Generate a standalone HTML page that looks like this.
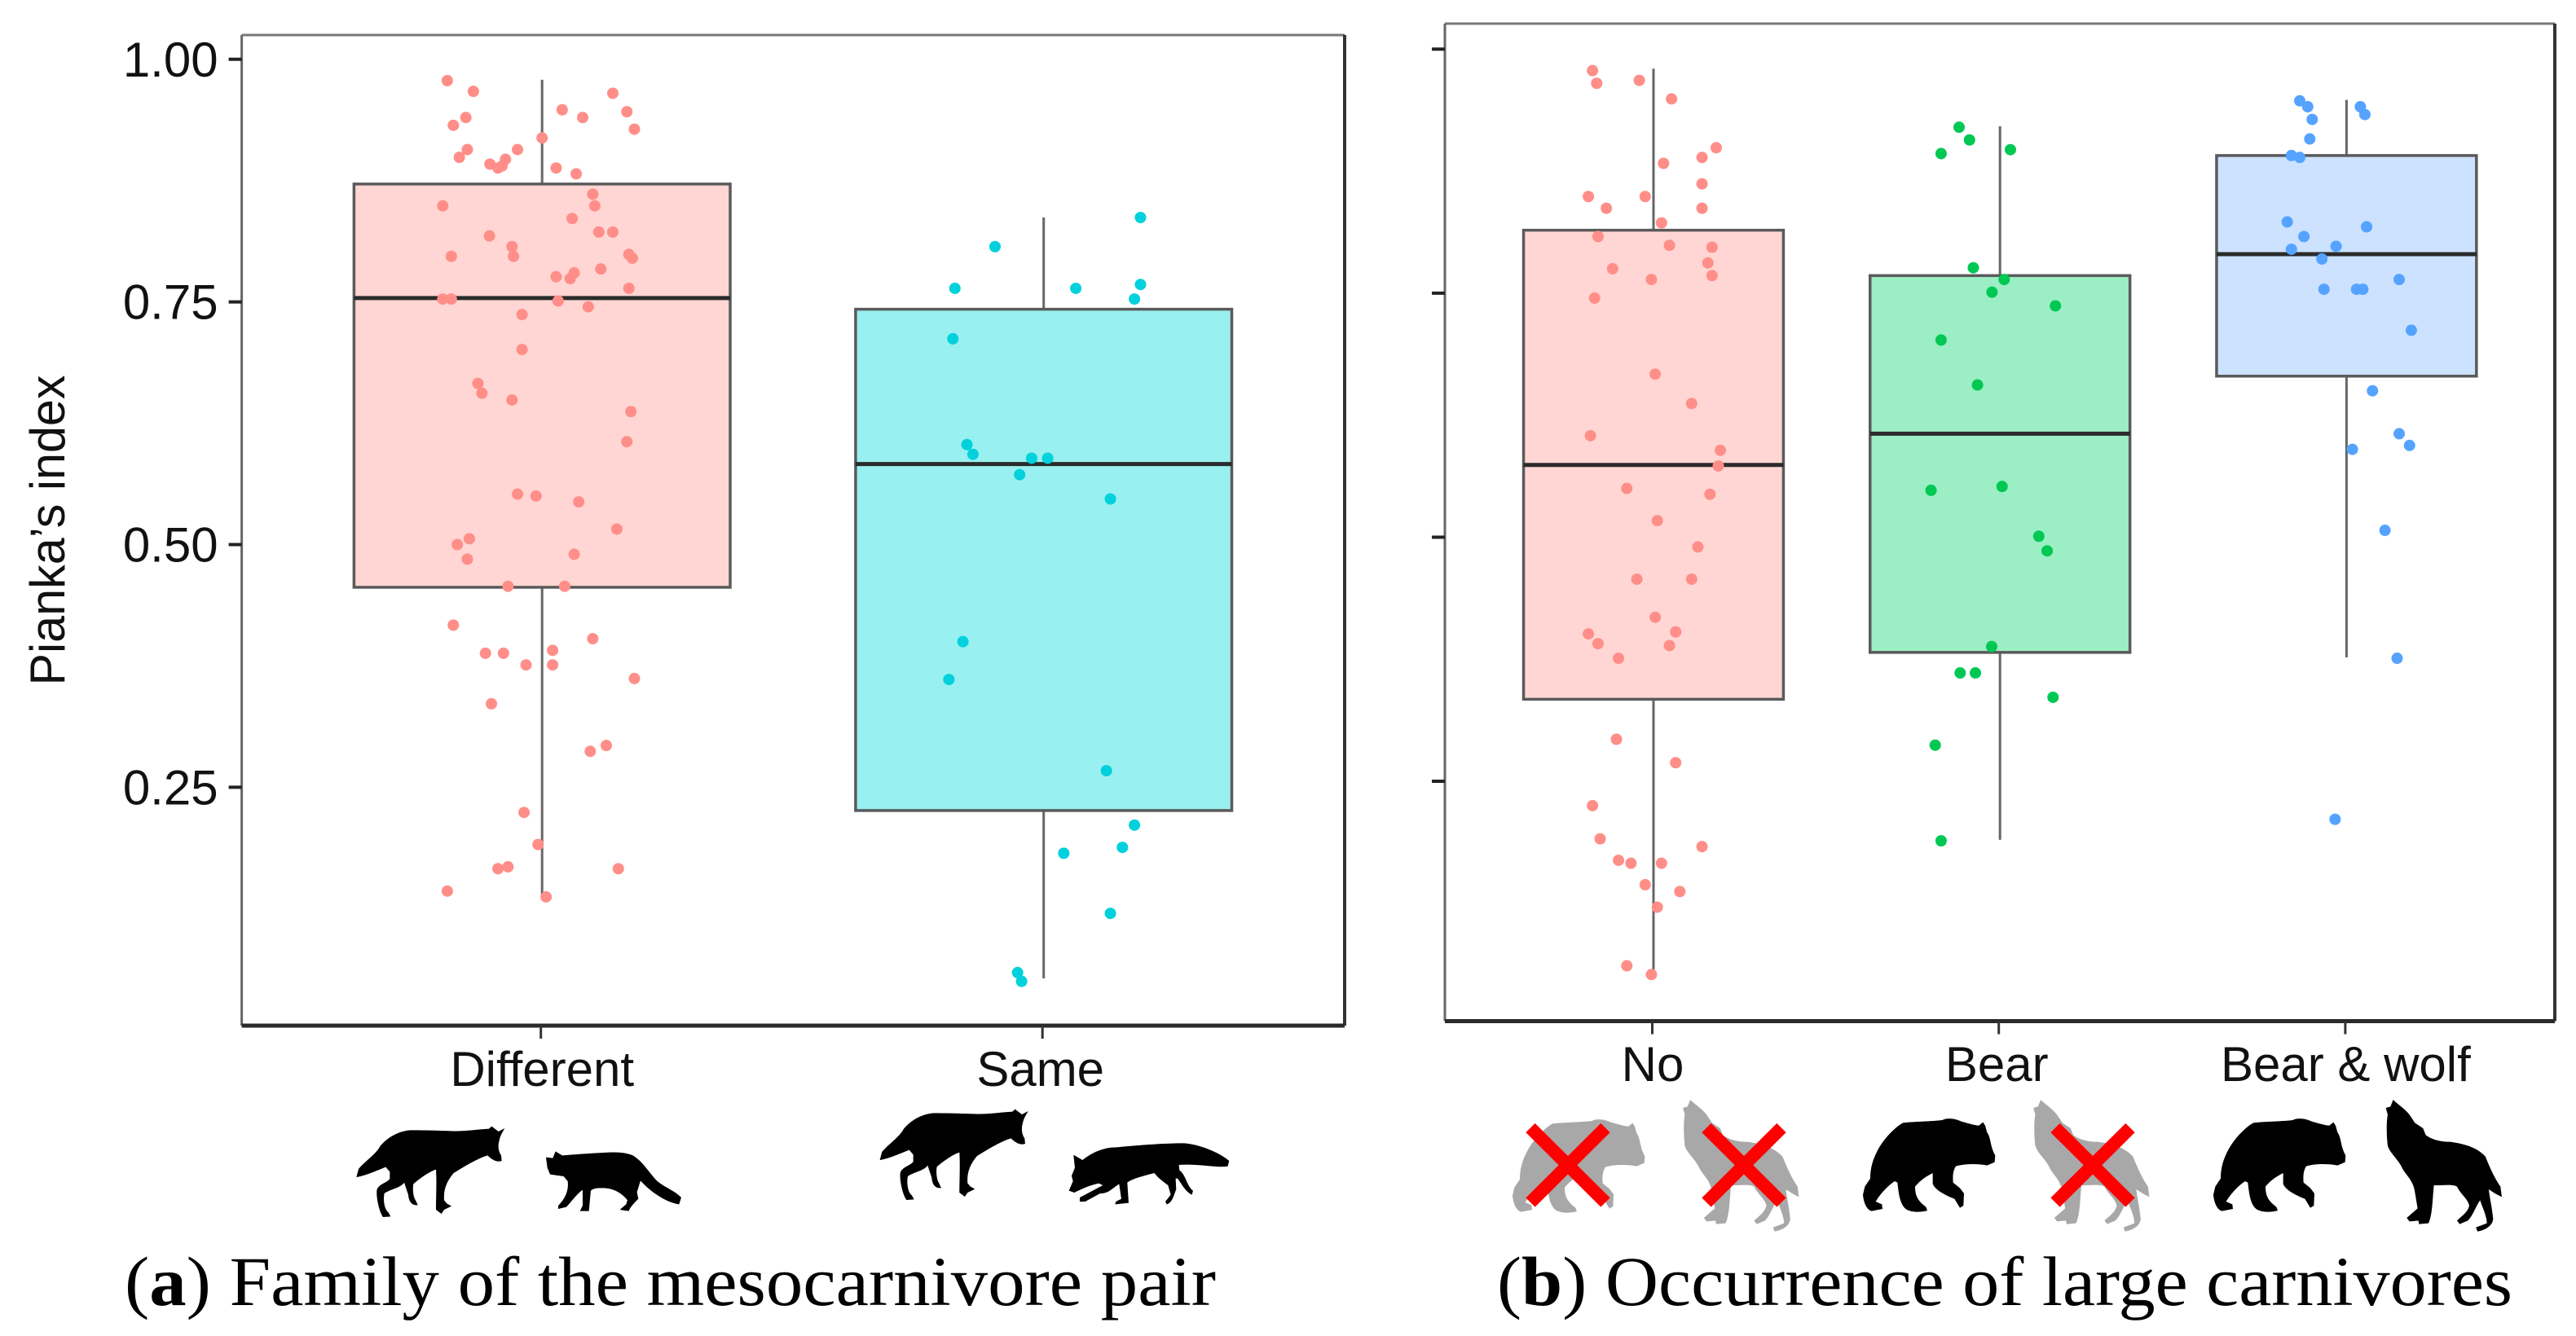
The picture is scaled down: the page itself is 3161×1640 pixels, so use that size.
<!DOCTYPE html>
<html lang="en">
<head>
<meta charset="utf-8">
<title>Pianka's index by mesocarnivore family and large carnivore occurrence</title>
<style>
html,body{margin:0;padding:0;background:#fff;}
svg{display:block;}
text{font-family:"Liberation Sans",Arial,sans-serif;fill:#111;}
.cap{font-family:"Liberation Serif","Times New Roman",serif;font-size:86px;fill:#000;}
</style>
</head>
<body>
<svg id="figure" xmlns="http://www.w3.org/2000/svg" width="3161" height="1640" viewBox="0 0 3161 1640">
  <rect x="0" y="0" width="3161" height="1640" fill="#ffffff"/>
  <g id="panel-a"></g>
  <g id="panel-b"></g>

  <!-- silhouettes, panel a -->
  <g fill="#000">
    <path transform="translate(420,1290) scale(0.3333)" d="M598,285 L575,297 L550,278 L540,287 C490,290 450,297 400,295 C340,293 290,292 250,292 C210,295 170,315 140,350 C125,380 85,405 60,435 L52,465 C80,462 130,440 160,428 L175,445 L175,470 C170,485 130,490 127,515 C125,540 135,590 150,612 L178,610 L170,595 C155,585 150,550 155,525 C175,510 215,505 228,485 L243,530 C245,555 255,570 278,568 L270,550 C262,540 258,510 262,490 C285,470 320,445 345,437 C348,480 345,540 345,585 L365,600 L375,585 L402,572 L385,562 L375,550 C372,510 385,480 410,450 C450,425 500,395 535,385 C550,400 570,412 587,405 L585,385 C575,370 572,350 578,330 C582,310 590,300 598,285 Z"/>
    <path transform="translate(420,1290) scale(0.3333)" d="M750,392 L775,395 L785,370 L810,385 C850,382 900,378 960,375 C1000,372 1040,372 1070,385 C1110,410 1130,450 1160,480 C1190,505 1225,515 1248,540 L1240,565 C1200,560 1140,525 1098,478 L1085,520 L1090,545 C1075,560 1060,575 1055,590 L1022,585 L1045,565 L1050,550 C1030,525 1000,505 960,505 C940,505 925,505 915,515 L908,590 L875,590 L885,570 L885,512 C860,530 840,560 825,575 L795,582 L795,570 C815,550 835,520 830,480 L815,462 L765,455 L755,430 Z"/>
    <path transform="translate(1062.3,1269) scale(0.3333)" d="M598,285 L575,297 L550,278 L540,287 C490,290 450,297 400,295 C340,293 290,292 250,292 C210,295 170,315 140,350 C125,380 85,405 60,435 L52,465 C80,462 130,440 160,428 L175,445 L175,470 C170,485 130,490 127,515 C125,540 135,590 150,612 L178,610 L170,595 C155,585 150,550 155,525 C175,510 215,505 228,485 L243,530 C245,555 255,570 278,568 L270,550 C262,540 258,510 262,490 C285,470 320,445 345,437 C348,480 345,540 345,585 L365,600 L375,585 L402,572 L385,562 L375,550 C372,510 385,480 410,450 C450,425 500,395 535,385 C550,400 570,412 587,405 L585,385 C575,370 572,350 578,330 C582,310 590,300 598,285 Z"/>
    <path transform="translate(1070,1290) scale(0.3333)" d="M742,383 L775,402 C810,375 850,355 900,355 C960,350 1050,340 1150,340 C1210,345 1280,375 1315,405 L1310,425 C1270,432 1200,415 1130,420 L1132,440 C1155,455 1160,500 1182,515 L1178,530 C1155,520 1140,490 1125,470 L1118,470 L1120,510 C1110,535 1105,560 1085,565 L1080,555 L1100,530 L1090,495 C1070,480 1050,465 1040,450 C1000,460 960,470 940,485 L945,560 L895,565 L898,555 L918,545 L910,490 C880,510 870,525 840,525 L785,555 L765,555 L765,540 L850,495 L835,488 C800,495 770,510 745,522 L725,515 L740,480 L735,460 L747,430 Z"/>
  </g>

  <!-- silhouettes, panel b -->
  <g>
    <path fill="#a8a8a8" transform="translate(1840,1311) scale(0.3333)" d="M490,203 L475,215 C460,215 430,205 410,200 C390,190 360,185 340,195 C300,200 240,200 195,205 C160,225 120,270 100,310 C85,340 75,370 75,410 L55,440 L48,470 C50,495 60,525 80,530 L120,522 L118,505 L95,495 C110,470 135,440 165,420 L175,425 C180,470 185,510 210,525 C230,535 260,535 285,528 L280,515 C255,495 240,480 240,440 C260,415 285,400 305,390 L305,430 C315,455 360,475 385,485 L405,518 L418,510 L420,465 L405,445 L380,425 C378,400 380,380 390,365 C420,355 470,355 505,362 L533,350 L535,325 C515,290 520,260 505,240 L498,215 Z"/>
    <path fill="#a8a8a8" transform="translate(1837.5,1310) scale(0.3333)" d="M710,120 L700,145 L683,150 L690,175 C685,200 685,250 690,290 C700,320 730,340 745,375 C760,400 785,420 790,460 L800,520 L760,555 L770,568 L803,565 L805,578 L840,575 C855,545 855,480 860,435 C900,435 930,430 945,440 C960,470 985,485 990,510 C985,535 960,550 945,565 L955,578 L985,565 C1005,545 1015,510 1030,490 C1040,520 1055,550 1055,575 L1015,590 L1020,605 C1050,600 1075,585 1078,560 C1075,520 1065,480 1062,450 L1085,465 L1110,478 L1105,440 C1085,410 1070,380 1050,330 C1020,295 970,282 920,275 C880,275 850,265 830,250 L820,225 L790,205 L770,175 C750,150 730,140 710,120 Z"/>
    <path fill="#000" transform="translate(2270,1310) scale(0.3333)" d="M490,203 L475,215 C460,215 430,205 410,200 C390,190 360,185 340,195 C300,200 240,200 195,205 C160,225 120,270 100,310 C85,340 75,370 75,410 L55,440 L48,470 C50,495 60,525 80,530 L120,522 L118,505 L95,495 C110,470 135,440 165,420 L175,425 C180,470 185,510 210,525 C230,535 260,535 285,528 L280,515 C255,495 240,480 240,440 C260,415 285,400 305,390 L305,430 C315,455 360,475 385,485 L405,518 L418,510 L420,465 L405,445 L380,425 C378,400 380,380 390,365 C420,355 470,355 505,362 L533,350 L535,325 C515,290 520,260 505,240 L498,215 Z"/>
    <path fill="#a8a8a8" transform="translate(2267.5,1310) scale(0.3333)" d="M710,120 L700,145 L683,150 L690,175 C685,200 685,250 690,290 C700,320 730,340 745,375 C760,400 785,420 790,460 L800,520 L760,555 L770,568 L803,565 L805,578 L840,575 C855,545 855,480 860,435 C900,435 930,430 945,440 C960,470 985,485 990,510 C985,535 960,550 945,565 L955,578 L985,565 C1005,545 1015,510 1030,490 C1040,520 1055,550 1055,575 L1015,590 L1020,605 C1050,600 1075,585 1078,560 C1075,520 1065,480 1062,450 L1085,465 L1110,478 L1105,440 C1085,410 1070,380 1050,330 C1020,295 970,282 920,275 C880,275 850,265 830,250 L820,225 L790,205 L770,175 C750,150 730,140 710,120 Z"/>
    <path fill="#000" transform="translate(2700,1310) scale(0.3333)" d="M490,203 L475,215 C460,215 430,205 410,200 C390,190 360,185 340,195 C300,200 240,200 195,205 C160,225 120,270 100,310 C85,340 75,370 75,410 L55,440 L48,470 C50,495 60,525 80,530 L120,522 L118,505 L95,495 C110,470 135,440 165,420 L175,425 C180,470 185,510 210,525 C230,535 260,535 285,528 L280,515 C255,495 240,480 240,440 C260,415 285,400 305,390 L305,430 C315,455 360,475 385,485 L405,518 L418,510 L420,465 L405,445 L380,425 C378,400 380,380 390,365 C420,355 470,355 505,362 L533,350 L535,325 C515,290 520,260 505,240 L498,215 Z"/>
    <path fill="#000" transform="translate(2700,1310) scale(0.3333)" d="M710,120 L700,145 L683,150 L690,175 C685,200 685,250 690,290 C700,320 730,340 745,375 C760,400 785,420 790,460 L800,520 L760,555 L770,568 L803,565 L805,578 L840,575 C855,545 855,480 860,435 C900,435 930,430 945,440 C960,470 985,485 990,510 C985,535 960,550 945,565 L955,578 L985,565 C1005,545 1015,510 1030,490 C1040,520 1055,550 1055,575 L1015,590 L1020,605 C1050,600 1075,585 1078,560 C1075,520 1065,480 1062,450 L1085,465 L1110,478 L1105,440 C1085,410 1070,380 1050,330 C1020,295 970,282 920,275 C880,275 850,265 830,250 L820,225 L790,205 L770,175 C750,150 730,140 710,120 Z"/>
  </g>

  <!-- red crosses -->
  <g stroke="#ff0000" stroke-width="16" fill="none">
    <g><line x1="1878" y1="1384.5" x2="1970" y2="1476"/><line x1="1970" y1="1384.5" x2="1878" y2="1476"/></g>
    <g><line x1="2094" y1="1384.5" x2="2186" y2="1476"/><line x1="2186" y1="1384.5" x2="2094" y2="1476"/></g>
    <g><line x1="2522" y1="1384.5" x2="2614" y2="1476"/><line x1="2614" y1="1384.5" x2="2522" y2="1476"/></g>
  </g>

  <!-- captions -->
  <text class="cap" x="153" y="1602" textLength="1339" lengthAdjust="spacingAndGlyphs">(<tspan font-weight="bold">a</tspan>) Family of the mesocarnivore pair</text>
  <text class="cap" x="1837" y="1602" textLength="1246" lengthAdjust="spacingAndGlyphs">(<tspan font-weight="bold">b</tspan>) Occurrence of large carnivores</text>
</svg>

<script>
// ---------- Panel A data ----------
const panelACategories = ["Different", "Same"];
const panelAQ1 = [0.456, 0.226];
const panelAMedian = [0.754, 0.583];
const panelAQ3 = [0.8715, 0.7425];
const panelAWhiskerLow = [0.138, 0.053];
const panelAWhiskerHigh = [0.979, 0.837];
const yTickValues = [1.00, 0.75, 0.50, 0.25];
const yTickLabels = ["1.00", "0.75", "0.50", "0.25"];
const yAxisTitle = "Pianka\u2019s index";

const differentValues = [.978,.967,.965,.948,.946,.940,.940,.932,.928,.919,.907,.907,.899,.897,.892,.890,.888,.888,.882,.861,.849,.849,.836,.822,.822,.818,.807,.799,.797,.797,.795,.784,.780,.776,.774,.764,.753,.753,.751,.745,.737,.701,.666,.656,.649,.637,.606,.552,.550,.544,.516,.506,.500,.485,.490,.457,.457,.417,.403,.391,.388,.388,.376,.376,.362,.336,.287,.293,.224,.191,.168,.166,.166,.143,.137];
const differentJitter = [-.189,-.137,.141,.040,.169,-.152,.081,-.177,.184,0,-.149,-.049,-.165,-.073,-.104,-.080,-.088,.028,.068,.101,-.198,.105,.060,.113,.141,-.105,-.060,.173,-.181,-.057,.180,.117,.064,.028,.056,.173,-.198,-.181,.032,.092,-.040,-.040,-.128,-.120,-.060,.177,.169,-.049,-.012,.073,.149,-.145,-.169,-.149,.064,-.068,.045,-.177,.101,.021,-.113,-.077,-.032,.021,.184,-.101,.096,.128,-.036,-.008,-.068,-.088,.152,-.189,.008];

const sameValues = [.837,.807,.764,.764,.768,.753,.712,.603,.593,.589,.589,.572,.547,.400,.361,.267,.211,.188,.182,.120,.059,.050];
const sameJitter = [.193,-.097,-.177,.064,.193,.181,-.181,-.153,-.141,-.024,.008,-.048,.133,-.161,-.189,.125,.181,.157,.040,.133,-.052,-.044];

// ---------- Panel B data ----------
const panelBCategories = ["No", "Bear", "Bear & wolf"];
const panelBQ1 = [0.334, 0.382, 0.665];
const panelBMedian = [0.574, 0.606, 0.790];
const panelBQ3 = [0.8145, 0.768, 0.891];
const panelBWhiskerLow = [0.056, 0.190, 0.377];
const panelBWhiskerHigh = [0.980, 0.921, 0.948];
const panelBTickValues = [1.00, 0.75, 0.50, 0.25];

const noValues = [.978,.965,.968,.949,.899,.889,.883,.862,.849,.849,.837,.837,.822,.808,.799,.797,.781,.775,.768,.764,.745,.667,.637,.604,.589,.573,.550,.544,.517,.490,.457,.457,.418,.403,.401,.391,.389,.376,.293,.269,.225,.191,.183,.169,.166,.166,.144,.137,.121,.061,.052];
const noJitter = [-.176,-.164,-.041,.052,.181,.140,.029,.140,-.188,-.024,-.136,.140,.023,-.160,.046,.169,.157,-.118,.169,-.006,-.170,.005,.110,-.182,.193,.187,-.077,.163,.011,.128,-.048,.110,.005,.064,-.188,-.160,.046,-.101,-.107,.064,-.176,-.154,.140,-.101,-.065,.023,-.024,.076,.011,-.077,-.006];

const bearValues = [.920,.907,.893,.897,.776,.764,.751,.737,.702,.656,.548,.552,.501,.486,.388,.361,.361,.336,.287,.189];
const bearJitter = [-.118,-.088,-.170,.030,-.077,.012,-.023,.160,-.170,-.065,-.199,.006,.112,.136,-.024,-.115,-.071,.153,-.187,-.170];

const bearWolfValues = [.947,.941,.941,.933,.928,.908,.891,.889,.823,.818,.808,.798,.795,.785,.764,.754,.754,.754,.712,.650,.606,.594,.590,.507,.376,.211];
const bearWolfJitter = [-.135,-.112,.040,.053,-.099,-.106,-.159,-.135,-.171,.058,-.123,-.030,-.159,-.071,.152,-.065,.029,.047,.187,.075,.152,.182,.017,.111,.146,-.033];

// ---------- Colours ----------
const panelAFills = ["#ffd6d3", "#99f0f0"];
const panelADots = ["#ff8e89", "#00d1dc"];
const panelBFills = ["#ffd6d3", "#9ceec5", "#cce2ff"];
const panelBDots = ["#ff8e89", "#00c853", "#55a3ff"];

// ---------- Axis functions ----------
function yA(v) { return 72.8 + (1 - v) * 1191.4; }
function xA(c) { return 665.2 + c * 615.5; }
function yB(v) { return 60.3 + (1 - v) * 1198.3; }
function xB(c) { return 2029 + c * 425.2; }

const NS = "http://www.w3.org/2000/svg";
function make(tag, attrs, parent) {
  const el = document.createElementNS(NS, tag);
  for (const k in attrs) el.setAttribute(k, attrs[k]);
  parent.appendChild(el);
  return el;
}

function drawFrame(parent, left, top, right, bottom) {
  const t = make("line", {x1: left, y1: top, x2: right, y2: top, stroke: "#777", "stroke-width": 3}, parent);
  
  
  const l = make("line", {x1: left, y1: top, x2: left, y2: bottom, stroke: "#666", "stroke-width": 3}, parent);
  
  
  const r = make("line", {x1: right, y1: top, x2: right, y2: bottom, stroke: "#333", "stroke-width": 4}, parent);
  
  
  const b = make("line", {x1: left, y1: bottom, x2: right, y2: bottom, stroke: "#2a2a2a", "stroke-width": 5}, parent);
  
  
}

function drawYTicks(parent, ticks, labels, yScale, axisX) {
  ticks.forEach(function (v, i) {
    const tick = make("line", {x1: axisX - 16, y1: yScale(v), x2: axisX, y2: yScale(v), stroke: "#222", "stroke-width": 4}, parent);
    
    
    if (labels) {
      const lab = make("text", {x: axisX - 29, y: yScale(v) + 21, "text-anchor": "end", "font-size": 60}, parent);
      lab.textContent = labels[i];
      
      
    }
  });
}

function drawXTicks(parent, cats, xScale, axisY, baseline, shift) {
  cats.forEach(function (name, i) {
    const tick = make("line", {x1: xScale(i) - 1.5, y1: axisY, x2: xScale(i) - 1.5, y2: axisY + 16, stroke: "#333", "stroke-width": 3}, parent);
    
    
    const lab = make("text", {x: xScale(i) + shift[i], y: baseline, "text-anchor": "middle", "font-size": 60}, parent);
    lab.textContent = name;
    
    
  });
}

function drawBox(parent, i, q1, med, q3, wl, wh, xScale, yScale, spacing, fill) {
  const cx = xScale(i);
  const half = spacing * 0.375;
  const upper = make("line", {x1: cx, y1: yScale(wh), x2: cx, y2: yScale(q3), stroke: "#666", "stroke-width": 3}, parent);
  
  
  const lower = make("line", {x1: cx, y1: yScale(q1), x2: cx, y2: yScale(wl), stroke: "#666", "stroke-width": 3}, parent);
  
  
  const box = make("rect", {x: cx - half, y: yScale(q3), width: half * 2, height: yScale(q1) - yScale(q3), fill: fill, stroke: "#5a5a5a", "stroke-width": 3.5}, parent);
  
  
  const m = make("line", {x1: cx - half, y1: yScale(med), x2: cx + half, y2: yScale(med), stroke: "#2b2b2b", "stroke-width": 5}, parent);
  
  
}

function drawDots(parent, i, values, jitter, xScale, yScale, spacing, color) {
  values.forEach(function (v, k) {
    const dot = make("circle", {cx: xScale(i) + jitter[k] * spacing, cy: yScale(v), r: 7, fill: color}, parent);
    
    
  });
}

// ---------- Panel A ----------
const gA = document.getElementById("panel-a");
panelACategories.forEach(function (c, i) {
  drawBox(gA, i, panelAQ1[i], panelAMedian[i], panelAQ3[i], panelAWhiskerLow[i], panelAWhiskerHigh[i], xA, yA, 615.5, panelAFills[i]);
});
drawDots(gA, 0, differentValues, differentJitter, xA, yA, 615.5, panelADots[0]);
drawDots(gA, 1, sameValues, sameJitter, xA, yA, 615.5, panelADots[1]);
drawFrame(gA, 296.6, 43, 1650, 1259);
drawYTicks(gA, yTickValues, yTickLabels, yA, 296.6);
drawXTicks(gA, panelACategories, xA, 1259, 1333, [0, -4]);
const yTitle = make("text", {transform: "translate(79,651) rotate(-90)", "text-anchor": "middle", "font-size": 60, textLength: 381, lengthAdjust: "spacingAndGlyphs"}, gA);
yTitle.textContent = yAxisTitle;



// ---------- Panel B ----------
const gB = document.getElementById("panel-b");
panelBCategories.forEach(function (c, i) {
  drawBox(gB, i, panelBQ1[i], panelBMedian[i], panelBQ3[i], panelBWhiskerLow[i], panelBWhiskerHigh[i], xB, yB, 425.2, panelBFills[i]);
});
drawDots(gB, 0, noValues, noJitter, xB, yB, 425.2, panelBDots[0]);
drawDots(gB, 1, bearValues, bearJitter, xB, yB, 425.2, panelBDots[1]);
drawDots(gB, 2, bearWolfValues, bearWolfJitter, xB, yB, 425.2, panelBDots[2]);
drawFrame(gB, 1773, 29, 3135, 1253.5);
drawYTicks(gB, panelBTickValues, null, yB, 1773);
drawXTicks(gB, panelBCategories, xB, 1253.5, 1327, [-1, -4, -1]);
</script>
</body>
</html>
